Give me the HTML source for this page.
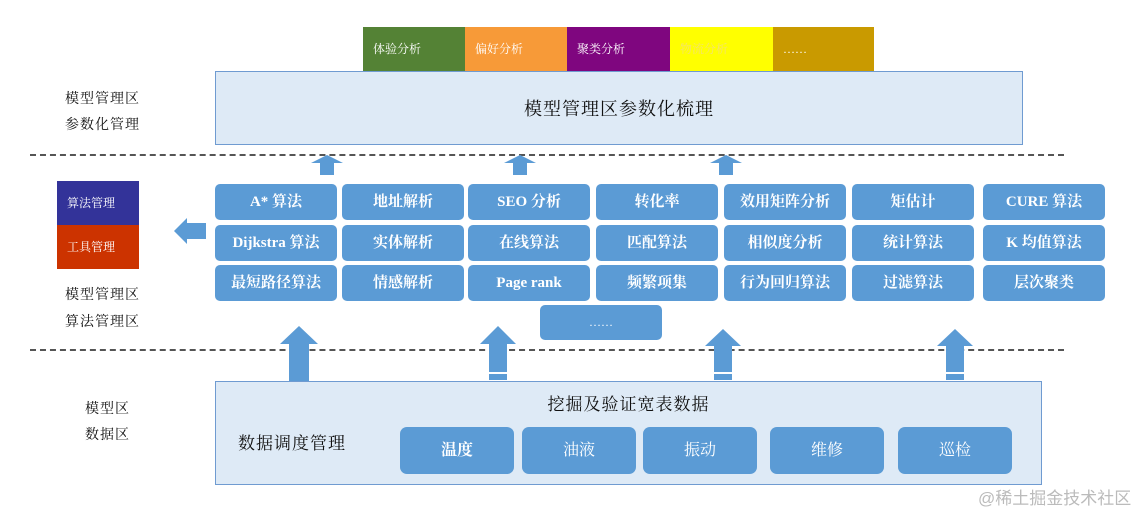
<!DOCTYPE html><html><head><meta charset="utf-8"><style>
body{margin:0;width:1144px;height:513px;background:#fff;position:relative;overflow:hidden;font-family:"Liberation Serif","Noto Serif CJK SC",serif;}
div{position:absolute;box-sizing:border-box;}
.t{color:#fff;font-size:12px;line-height:44px;padding-left:10px;top:27px;height:44px;}
.c{background:#5b9bd5;color:#fff;border-radius:5px;text-align:center;font-size:15px;font-weight:bold;}
.r1{top:184px;height:36px;line-height:36px}.r2{top:225px;height:36px;line-height:36px}.r3{top:265px;height:36px;line-height:36px}
.lab{font-size:14px;color:#111;letter-spacing:1px}
.dash{height:0;border-top:2px dashed #555;left:30px;width:1034px}
.sa{width:14px;height:12px;background:#5b9bd5;top:163px}
.sh{width:0;height:0;border-left:16px solid transparent;border-right:16px solid transparent;border-bottom:8px solid #5b9bd5;top:155px}
.b{background:#5b9bd5;color:#fff;border-radius:7px;text-align:center;top:427px;height:47px;line-height:47px;font-size:16px;width:114px}
</style></head><body>
<div class="t" style="left:363px;width:102px;background:#548235">体验分析</div>
<div class="t" style="left:465px;width:102px;background:#f79a38">偏好分析</div>
<div class="t" style="left:567px;width:103px;background:#7f067f">聚类分析</div>
<div class="t" style="left:670px;width:103px;background:#ffff00;color:#f4e36a">物流分析</div>
<div class="t" style="left:773px;width:101px;background:#c99a00">……</div>
<div style="left:215px;top:71px;width:808px;height:74px;background:#deeaf6;border:1.5px solid #6f9bd1;text-align:center;line-height:74px;font-size:18px;color:#111;letter-spacing:1px">模型管理区参数化梳理</div>
<div class="lab" style="left:65px;top:88px">模型管理区</div>
<div class="lab" style="left:65px;top:114px">参数化管理</div>
<div class="dash" style="top:154px"></div>
<div class="sh" style="left:311px"></div><div class="sa" style="left:320px"></div>
<div class="sh" style="left:504px"></div><div class="sa" style="left:513px"></div>
<div class="sh" style="left:710px"></div><div class="sa" style="left:719px"></div>
<div style="left:57px;top:181px;width:82px;height:44px;background:#333399;color:#fff;font-size:12px;line-height:44px;padding-left:10px">算法管理</div>
<div style="left:57px;top:225px;width:82px;height:44px;background:#cc3300;color:#fff;font-size:12px;line-height:44px;padding-left:10px">工具管理</div>
<div style="left:186px;top:223px;width:20px;height:16px;background:#5b9bd5"></div>
<div style="left:174px;top:218px;width:0;height:0;border-top:13px solid transparent;border-bottom:13px solid transparent;border-right:13px solid #5b9bd5"></div>
<div class="lab" style="left:65px;top:284px">模型管理区</div>
<div class="lab" style="left:65px;top:311px">算法管理区</div>
<div class="c r1" style="left:215px;width:122px">A* 算法</div>
<div class="c r1" style="left:342px;width:122px">地址解析</div>
<div class="c r1" style="left:468px;width:122px">SEO 分析</div>
<div class="c r1" style="left:596px;width:122px">转化率</div>
<div class="c r1" style="left:724px;width:122px">效用矩阵分析</div>
<div class="c r1" style="left:852px;width:122px">矩估计</div>
<div class="c r1" style="left:983px;width:122px">CURE 算法</div>
<div class="c r2" style="left:215px;width:122px">Dijkstra 算法</div>
<div class="c r2" style="left:342px;width:122px">实体解析</div>
<div class="c r2" style="left:468px;width:122px">在线算法</div>
<div class="c r2" style="left:596px;width:122px">匹配算法</div>
<div class="c r2" style="left:724px;width:122px">相似度分析</div>
<div class="c r2" style="left:852px;width:122px">统计算法</div>
<div class="c r2" style="left:983px;width:122px">K 均值算法</div>
<div class="c r3" style="left:215px;width:122px">最短路径算法</div>
<div class="c r3" style="left:342px;width:122px">情感解析</div>
<div class="c r3" style="left:468px;width:122px">Page rank</div>
<div class="c r3" style="left:596px;width:122px">频繁项集</div>
<div class="c r3" style="left:724px;width:122px">行为回归算法</div>
<div class="c r3" style="left:852px;width:122px">过滤算法</div>
<div class="c r3" style="left:983px;width:122px">层次聚类</div>
<div class="c" style="left:540px;top:305px;width:122px;height:35px;line-height:35px;font-weight:normal;font-size:12px">……</div>
<div class="dash" style="top:349px"></div>
<svg style="position:absolute;left:0;top:0" width="1144" height="513">
<g fill="#5b9bd5">
<polygon points="289,383 309,383 309,344 318,344 299,326 280,344 289,344"/>
<polygon points="489,380 507,380 507,344 516,344 498,326 480,344 489,344"/>
<polygon points="714,380 732,380 732,346 741,346 723,329 705,346 714,346"/>
<polygon points="946,380 964,380 964,346 973,346 955,329 937,346 946,346"/>
</g>
<g fill="#fff"><rect x="489" y="372" width="18" height="2"/><rect x="714" y="372" width="18" height="2"/><rect x="946" y="372" width="18" height="2"/></g>
</svg>
<div style="left:215px;top:381px;width:827px;height:104px;background:#deeaf6;border:1.5px solid #6f9bd1"></div>
<div style="left:215px;top:390px;width:827px;text-align:center;font-size:17px;color:#111;letter-spacing:1px">挖掘及验证宽表数据</div>
<div style="left:238px;top:429px;font-size:17px;color:#111;letter-spacing:1px">数据调度管理</div>
<div class="b" style="left:400px;font-weight:bold">温度</div>
<div class="b" style="left:522px">油液</div>
<div class="b" style="left:643px">振动</div>
<div class="b" style="left:770px">维修</div>
<div class="b" style="left:898px">巡检</div>
<div class="lab" style="left:85px;top:398px">模型区</div>
<div class="lab" style="left:85px;top:424px">数据区</div>
<div style="left:978px;top:484px;font-family:'Liberation Sans','Noto Sans CJK SC',sans-serif;font-size:17px;color:#bbb">@稀土掘金技术社区</div>
</body></html>
